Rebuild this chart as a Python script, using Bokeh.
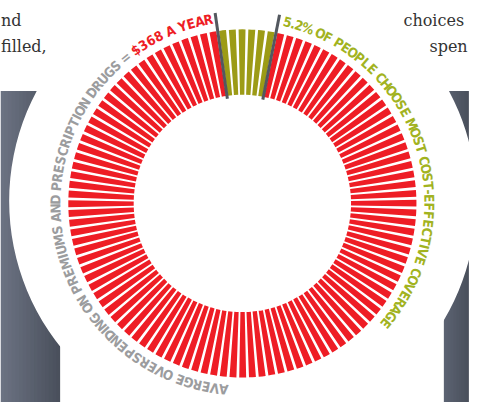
import numpy as np
from bokeh.plotting import figure
from bokeh.models import Range1d, ColumnDataSource
from bokeh.embed import file_html
from bokeh.resources import INLINE
from bokeh.core.properties import value

# ---------------- data ----------------
segment_labels = ["Most cost-effective coverage", "Other coverage"]
segment_counts = [6, 106]                 # bars in the ring
segment_colors = ["#9c9b16", "#ee1d25"]

label_left_gray = "AVERGE OVERSPENDING ON PREMIUMS AND PRESCRIPTION DRUGS = "
label_left_red = "$368 A YEAR"
label_right = "5.2% OF PEOPLE CHOOSE MOST COST-EFFECTIVE COVERAGE"

body_words = ["nd", "filled,", "choices", "spen"]

# ---------------- layout (reference-pixel units, scaled to fit the page) ----------------
W_REF, H_REF = 487, 418
PW, PH = 471, 402
S = PH / H_REF            # uniform scale so the whole scene fits


def Y(y_img):
    return H_REF - y_img


CX, CY = 251.5, Y(211)
R_IN, R_OUT = 113.0, 181.0
R_TXT = 194.5
DISC_CX, DISC_CY, DISC_R = 252.0, Y(208.5), 243.0
GREEN_CENTER = 1.5        # degrees clockwise from 12 o'clock

p = figure(width=PW, height=PH, x_range=Range1d(0, PW / S), y_range=Range1d(0, H_REF),
           output_backend="svg", toolbar_location=None, min_border=0,
           x_axis_type=None, y_axis_type=None)
p.outline_line_color = None
p.grid.visible = False
p.background_fill_color = "white"
p.border_fill_color = "white"


def blend(c0, c1, t):
    a = [int(c0[i:i + 2], 16) for i in (1, 3, 5)]
    b = [int(c1[i:i + 2], 16) for i in (1, 3, 5)]
    return "#%02x%02x%02x" % tuple(int(round(a[k] + (b[k] - a[k]) * t)) for k in range(3))


# ---------------- dark side panels + white disc ----------------
def panel(x0, x1, c0, c1, n=16):
    xs = np.linspace(x0, x1, n + 1)
    rights = np.minimum(xs[1:] + 1.0, x1)
    p.quad(left=xs[:-1], right=rights, bottom=Y(H_REF), top=Y(94),
           fill_color=[blend(c0, c1, i / (n - 1)) for i in range(n)], line_color=None)


panel(0, 62, "#6b7282", "#4a505c")
panel(461, W_REF, "#5c6372", "#4a505c")
p.circle(x=[DISC_CX], y=[DISC_CY], radius=DISC_R, fill_color="white", line_color=None)

# ---------------- ring of bars ----------------
n_total = sum(segment_counts)
pitch = 360.0 / n_total
colors, thetas = [], []
idx = 0
for cnt, col in zip(segment_counts, segment_colors):
    for _ in range(cnt):
        thetas.append(GREEN_CENTER + (idx - (segment_counts[0] - 1) / 2.0) * pitch)
        colors.append(col)
        idx += 1
thetas = np.array(thetas)
phi = np.radians(90.0 - thetas)
half = np.radians(pitch * 0.355)
ring = ColumnDataSource(dict(x=[CX] * n_total, y=[CY] * n_total,
                             s=phi - half, e=phi + half, c=colors))
p.annular_wedge(x="x", y="y", inner_radius=R_IN, outer_radius=R_OUT,
                start_angle="s", end_angle="e", fill_color="c", line_color=None,
                source=ring)

# dividers around the cost-effective segment
div_th = np.radians(GREEN_CENTER + np.array([-1, 1]) * segment_counts[0] / 2.0 * pitch)
p.segment(x0=CX + 110 * np.sin(div_th), y0=CY + 110 * np.cos(div_th),
          x1=CX + 200 * np.sin(div_th), y1=CY + 200 * np.cos(div_th),
          line_color="#53585f", line_width=3)


# ---------------- curved labels ----------------
def char_w(ch):
    if ch == " ":
        return 0.45
    if ch in ".,":
        return 0.4
    if ch in "-I1":
        return 0.5
    if ch in "MW%":
        return 1.25
    return 1.0


def arc_layout(s, th0, th1):
    w = np.array([char_w(c) for c in s])
    cen = np.cumsum(w) - w / 2
    cen = (cen - cen[0]) / (cen[-1] - cen[0])
    return th0 + cen * (th1 - th0)


left_str = label_left_gray + label_left_red
left_cols_txt = ["#9b9c9e"] * len(label_left_gray) + ["#ee1d25"] * len(label_left_red)
th_left = arc_layout(left_str, 185.8, 349.5)
th_right = arc_layout(label_right, 14.0, 129.9)

chars = list(left_str) + list(label_right)
ccols = left_cols_txt + ["#a2b31f"] * len(label_right)
th_all = np.radians(np.concatenate([th_left, th_right]))
txt = ColumnDataSource(dict(x=CX + R_TXT * np.sin(th_all), y=CY + R_TXT * np.cos(th_all),
                            t=chars, a=-th_all, c=ccols))
p.text(x="x", y="y", text="t", angle="a", text_color="c", source=txt,
       text_font=value("DejaVu Sans Condensed"), text_font_size="13.5px",
       text_font_style="bold", text_align="center", text_baseline="middle")

# ---------------- surrounding body text ----------------
p.text(x=[0.5, 0.5], y=[Y(21), Y(48)], text=body_words[:2], text_align="left",
       text_baseline="alphabetic", text_font=value("DejaVu Serif"),
       text_font_size="16px", text_color="#333333")
p.text(x=[419, 446], y=[Y(21), Y(48)], text=body_words[2:], text_align="left",
       text_baseline="alphabetic", text_font=value("DejaVu Serif"),
       text_font_size="16px", text_color="#333333")

open("out.html", "w").write(file_html(p, INLINE))
